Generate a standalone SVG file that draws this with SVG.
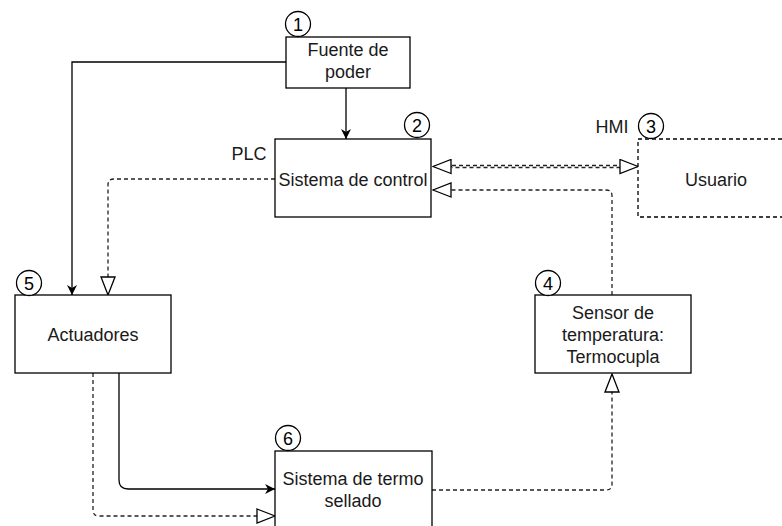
<svg xmlns="http://www.w3.org/2000/svg" width="782" height="526" viewBox="0 0 782 526">
<defs>
<style>
.box{fill:#fff;stroke:#000;stroke-width:1.3}
.dbox{fill:#fff;stroke:#000;stroke-width:1.3;stroke-dasharray:4 3}
.t{font-family:"Liberation Sans",Arial,sans-serif;font-size:18px;fill:#1a1a1a;text-anchor:middle}
.num{font-family:"Liberation Sans",Arial,sans-serif;font-size:18px;fill:#000;text-anchor:middle}
.circ{fill:#fff;stroke:#000;stroke-width:1.3}
.solid{fill:none;stroke:#000;stroke-width:1.3}
.dash{fill:none;stroke:#222;stroke-width:1.3;stroke-dasharray:4 3}
</style>
<marker id="fill" viewBox="0 0 10 10" refX="10" refY="5" markerWidth="10" markerHeight="10" markerUnits="userSpaceOnUse" orient="auto">
<path d="M0,0 L10,5 L0,10 L3,5 Z" fill="#000"/>
</marker>
<marker id="open" viewBox="0 0 20 16" refX="19" refY="8" markerWidth="20" markerHeight="16" markerUnits="userSpaceOnUse" orient="auto">
<path d="M1,1 L19,8 L1,15 Z" fill="#fff" stroke="#000" stroke-width="1.3"/>
</marker>
</defs>
<g id="connectors">
<path class="solid" d="M346,88 V139" marker-end="url(#fill)"/>
<path class="solid" d="M286,62 H72 V295" marker-end="url(#fill)"/>
<path class="dash" d="M275,179 H114 Q108,179 108,185 V295" marker-end="url(#open)"/>
<path class="dash" d="M452,165.5 H620"/>
<path class="dash" d="M452,167.5 H620" stroke-dashoffset="3.5"/>
<path class="dash" d="M620,166.5 H638" marker-end="url(#open)"/>
<path class="dash" d="M452,166.5 H433" marker-end="url(#open)"/>
<path class="dash" d="M612,295 V196 Q612,190 606,190 H433" marker-end="url(#open)"/>
<path class="dash" d="M432,490 H606 Q612,490 612,484 V374" marker-end="url(#open)"/>
<path class="solid" d="M119,373 V480 Q119,489 128,489 H275" marker-end="url(#fill)"/>
<path class="dash" d="M93,373 V510 Q93,516 99,516 H275" marker-end="url(#open)"/>
</g>
<g id="n1">
<rect class="box" x="286" y="37" width="124" height="51"/>
<text class="t" x="348" y="56">Fuente de</text>
<text class="t" x="348" y="78">poder</text>
<circle class="circ" cx="298" cy="24" r="12.5"/>
<text class="num" x="298" y="30.5">1</text>
</g>
<g id="n2">
<rect class="box" x="275" y="139" width="156" height="78"/>
<text class="t" x="353" y="185.5">Sistema de control</text>
<text class="t" x="249" y="159.5">PLC</text>
<circle class="circ" cx="417" cy="125" r="12.5"/>
<text class="num" x="417" y="131.5">2</text>
</g>
<g id="n3">
<rect class="dbox" x="638" y="139" width="160" height="78"/>
<text class="t" x="716" y="185.5">Usuario</text>
<text class="t" x="612" y="133">HMI</text>
<circle class="circ" cx="651" cy="126" r="12.5"/>
<text class="num" x="651" y="132.5">3</text>
</g>
<g id="n4">
<rect class="box" x="535" y="295" width="156" height="78"/>
<text class="t" x="613" y="319">Sensor de</text>
<text class="t" x="613" y="341">temperatura:</text>
<text class="t" x="613" y="362.5">Termocupla</text>
<circle class="circ" cx="548" cy="283" r="12.5"/>
<text class="num" x="548" y="289.5">4</text>
</g>
<g id="n5">
<rect class="box" x="15" y="295" width="156" height="78"/>
<text class="t" x="93" y="340.5">Actuadores</text>
<circle class="circ" cx="29" cy="283" r="12.5"/>
<text class="num" x="29" y="289.5">5</text>
</g>
<g id="n6">
<rect class="box" x="275" y="451" width="157" height="80"/>
<text class="t" x="353" y="484.5">Sistema de termo</text>
<text class="t" x="353" y="506.5">sellado</text>
<circle class="circ" cx="288" cy="438" r="12.5"/>
<text class="num" x="288" y="444.5">6</text>
</g>
</svg>
